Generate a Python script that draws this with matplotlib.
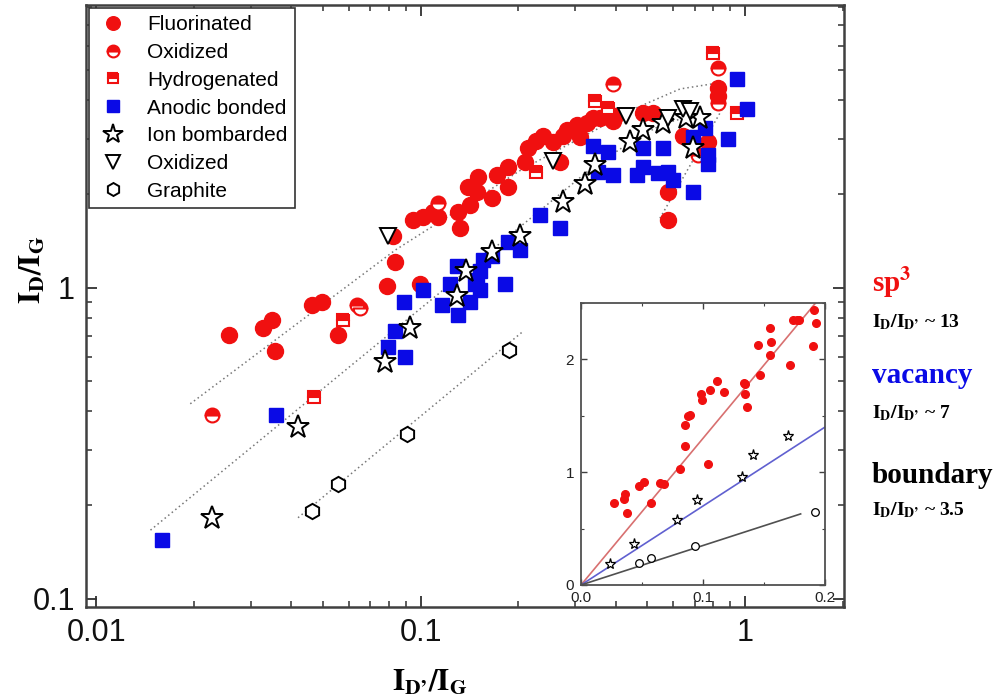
import numpy as np
import matplotlib.pyplot as plt
from matplotlib.ticker import MultipleLocator, NullFormatter

plt.rcParams['font.family'] = ['Liberation Sans', 'DejaVu Sans']
plt.rcParams['mathtext.fontset'] = 'stix'

# ---- main plot data (I_D'/I_G, I_D/I_G) ----
fluor_x = [0.0257, 0.0327, 0.0349, 0.0356, 0.0463, 0.0497, 0.0557, 0.0789, 0.0834, 0.0996,
           0.0823, 0.0948, 0.1018, 0.1093, 0.1132, 0.1306, 0.1324, 0.1422, 0.140, 0.1503,
           0.1493, 0.166, 0.172, 0.186, 0.186, 0.210, 0.214, 0.227, 0.239, 0.256,
           0.275, 0.269, 0.283, 0.303, 0.310, 0.326, 0.340, 0.357, 0.378, 0.392,
           0.397, 0.485, 0.520, 0.644, 0.769, 0.579, 0.579, 0.826, 0.826]
fluor_y = [0.705, 0.740, 0.787, 0.625, 0.876, 0.899, 0.705, 1.01, 1.21, 1.03,
           1.47, 1.65, 1.68, 1.75, 1.68, 1.75, 1.55, 1.84, 2.10, 2.26,
           2.03, 1.94, 2.30, 2.44, 2.10, 2.53, 2.82, 2.97, 3.08, 2.93,
           3.08, 2.53, 3.20, 3.32, 3.04, 3.39, 3.52, 3.52, 3.65, 3.44,
           3.57, 3.65, 3.65, 3.08, 2.93, 2.03, 1.65, 4.39, 4.14]

oxid_x = [0.0228, 0.0637, 0.0651, 0.1132, 0.392, 0.826, 0.826, 0.716]
oxid_y = [0.390, 0.876, 0.860, 1.87, 4.52, 5.08, 3.93, 2.66]

hydro_x = [0.0470, 0.0577, 0.227, 0.345, 0.378, 0.797, 0.945]
hydro_y = [0.444, 0.787, 2.35, 3.99, 3.79, 5.68, 3.65]

anodic_x = [0.0160, 0.0359, 0.0834, 0.0794, 0.0896, 0.0889, 0.1018, 0.1164, 0.1306, 0.1233,
            0.1295, 0.1422, 0.1525, 0.1493, 0.156, 0.166, 0.182, 0.203, 0.1525, 0.1472,
            0.186, 0.233, 0.269, 0.340, 0.378, 0.352, 0.392, 0.465, 0.485, 0.485,
            0.559, 0.540, 0.579, 0.600, 0.692, 0.692, 0.753, 0.769, 0.769, 0.887,
            0.945, 1.015]
anodic_y = [0.154, 0.390, 0.723, 0.643, 0.597, 0.899, 0.982, 0.876, 0.814, 1.03,
            1.17, 0.899, 0.982, 1.06, 1.23, 1.26, 1.03, 1.32, 1.13, 1.03,
            1.40, 1.71, 1.55, 2.86, 2.72, 2.35, 2.30, 2.30, 2.44, 2.82,
            2.82, 2.33, 2.35, 2.21, 2.03, 3.04, 3.27, 2.50, 2.66, 3.01,
            4.69, 3.76]

ion_x = [0.0228, 0.0419, 0.0778, 0.0929, 0.1295, 0.138, 0.166, 0.203, 0.275, 0.321,
         0.345, 0.443, 0.485, 0.559, 0.692, 0.727, 0.658]
ion_y = [0.182, 0.355, 0.576, 0.740, 0.936, 1.13, 1.30, 1.47, 1.88, 2.16,
         2.47, 2.93, 3.20, 3.39, 2.80, 3.52, 3.52]

tri_x = [0.0794, 0.256, 0.430, 0.579, 0.644, 0.677]
tri_y = [1.47, 2.56, 3.57, 3.52, 3.76, 3.70]

graph_x = [0.0463, 0.0557, 0.0909, 0.1875]
graph_y = [0.191, 0.233, 0.337, 0.630]

# dotted guide curves
sp3_guide_x = [0.0195, 0.0836, 0.203, 0.465, 0.631, 0.797]
sp3_guide_y = [0.423, 1.32, 2.38, 3.79, 4.35, 4.52]
vac_guide_x = [0.0147, 0.340, 0.452, 0.559, 0.727]
vac_guide_y = [0.166, 2.44, 2.97, 3.36, 3.62]
bound_guide_x = [0.0419, 0.207]
bound_guide_y = [0.182, 0.723]
steep_guide_x = [0.547, 0.87]
steep_guide_y = [1.67, 3.90]

# ---- inset data (linear scale) ----
in_sp3_x = [0.0267, 0.0349, 0.0363, 0.0377, 0.0472, 0.0513, 0.0573, 0.0649, 0.0677, 0.0813,
            0.0854, 0.0854, 0.0881, 0.0895, 0.0982, 0.0990, 0.1059, 0.1045, 0.1113, 0.1168,
            0.1332, 0.1345, 0.1345, 0.1359, 0.1454, 0.1468, 0.155, 0.1555, 0.155, 0.1714,
            0.174, 0.1768, 0.179, 0.191, 0.1926, 0.190]
in_sp3_y = [0.723, 0.759, 0.810, 0.640, 0.878, 0.917, 0.723, 0.908, 0.893, 1.03,
            1.23, 1.42, 1.50, 1.51, 1.69, 1.64, 1.73, 1.07, 1.81, 1.71,
            1.79, 1.78, 1.69, 1.58, 2.13, 1.86, 2.28, 2.15, 2.04, 1.95,
            2.35, 2.35, 2.35, 2.44, 2.32, 2.12]
in_vac_x = [0.024, 0.0437, 0.0791, 0.095, 0.1318, 0.1413, 0.1694]
in_vac_y = [0.185, 0.363, 0.580, 0.756, 0.958, 1.155, 1.324]
in_bnd_x = [0.0477, 0.0573, 0.0936, 0.1918]
in_bnd_y = [0.193, 0.238, 0.342, 0.646]

ratio_labels = ['sp$^\\mathbf{3}$', 'vacancy', 'boundary']
ratio_values = ['13', '7', '3.5']
ratio_nums = [13, 7, 3.5]
fit_end_x = [0.2, 0.2, 0.18]

RED = '#f01010'
BLUE = '#0a0ae6'

fig = plt.figure(figsize=(10.01, 7), dpi=100)
ax = fig.add_axes([0.0859, 0.1329, 0.7572, 0.86])
ax.set_xscale('log')
ax.set_yscale('log')

gkw = dict(ls=(0, (1, 2)), color='#777777', lw=1.1, zorder=1)
ax.plot(sp3_guide_x, sp3_guide_y, **gkw)
ax.plot(vac_guide_x, vac_guide_y, **gkw)
ax.plot(bound_guide_x, bound_guide_y, **gkw)
ax.plot(steep_guide_x, steep_guide_y, **gkw)

ax.plot(fluor_x, fluor_y, 'o', ms=11.5, color=RED, mec=RED, zorder=3, label='Fluorinated')
ax.plot(oxid_x, oxid_y, 'o', ms=10, color=RED, mec=RED, mfc=RED, fillstyle='top',
        markerfacecoloralt='white', mew=1.5, zorder=3, label='Oxidized')
ax.plot(hydro_x, hydro_y, 's', ms=9, color=RED, mec=RED, mfc=RED, fillstyle='top',
        markerfacecoloralt='white', mew=1.5, zorder=3, label='Hydrogenated')
ax.plot(anodic_x, anodic_y, 's', ms=9.5, color=BLUE, mec=BLUE, zorder=4, label='Anodic bonded')
ax.plot(ion_x, ion_y, '*', ms=17, mfc='white', mec='black', mew=1.4, zorder=5,
        label='Ion bombarded')
ax.plot(tri_x, tri_y, 'v', ms=12, mfc='white', mec='black', mew=1.4, zorder=5, label='Oxidized')
ax.plot(graph_x, graph_y, 'h', ms=11, mfc='white', mec='black', mew=1.4, zorder=5,
        label='Graphite')

ax.set_xlim(0.0093, 2.02)
ax.set_ylim(0.094, 8.1)
ax.set_xticks([0.01, 0.1, 1])
ax.set_xticklabels(['0.01', '0.1', '1'])
ax.set_yticks([0.1, 1])
ax.set_yticklabels(['0.1', '1'])
ax.xaxis.set_minor_formatter(NullFormatter())
ax.yaxis.set_minor_formatter(NullFormatter())
ax.tick_params(which='both', direction='in', top=True, right=True, colors='#303030',
               labelcolor='#111111', labelsize=22, pad=8)
ax.tick_params(which='major', length=8, width=1.3)
ax.tick_params(which='minor', length=4.5, width=1.1)
for sp in ax.spines.values():
    sp.set_color('#404040')
    sp.set_linewidth(1.8)

leg = ax.legend(loc='upper left', bbox_to_anchor=(0.004, 0.995), borderaxespad=0,
                fontsize=15, fancybox=False, edgecolor='#333333', framealpha=1,
                markerscale=0.85, handlelength=1.6, handletextpad=0.85,
                labelspacing=0.42, borderpad=0.35)
leg.get_frame().set_linewidth(1.2)

APOS = '\u2019'
fig.text(31 / 1001, 1 - 270 / 700, r'$\mathbf{I_D/I_G}$', rotation=90, fontsize=22,
         ha='center', va='center')
fig.text(430 / 1001, 1 - 689 / 700, r'$\mathbf{I_{D' + APOS + r'}/I_G}$', fontsize=22,
         ha='center', va='baseline')

# ---- inset ----
ins = fig.add_axes([0.5804, 0.1643, 0.2438, 0.4029], zorder=6)
ins.set_facecolor('white')
line_cols = ['#d87070', '#6060d0', '#505050']
for r, xe, c in zip(ratio_nums, fit_end_x, line_cols):
    ins.plot([0, xe], [0, r * xe], color=c, lw=1.2, zorder=1)
ins.plot(in_sp3_x, in_sp3_y, 'o', ms=5.5, color=RED, zorder=3)
ins.plot(in_vac_x, in_vac_y, '*', ms=8, mfc='white', mec='black', mew=0.9, zorder=3)
ins.plot(in_bnd_x, in_bnd_y, 'o', ms=5.5, mfc='white', mec='black', mew=0.9, zorder=3)
ins.set_xlim(0, 0.2)
ins.set_ylim(0, 2.5)
ins.set_xticks([0, 0.1, 0.2])
ins.set_xticklabels(['0.0', '0.1', '0.2'])
ins.set_yticks([0, 1, 2])
ins.set_yticklabels(['0', '1', '2'])
ins.xaxis.set_minor_locator(MultipleLocator(0.05))
ins.yaxis.set_minor_locator(MultipleLocator(0.5))
ins.tick_params(which='both', direction='in', top=True, right=True, colors='#404040',
                labelcolor='#222222', labelsize=11)
ins.tick_params(axis='x', pad=4)
ins.tick_params(axis='y', pad=5)
ins.tick_params(which='major', length=4, width=1)
ins.tick_params(which='minor', length=2.5, width=0.8)
for sp in ins.spines.values():
    sp.set_color('#505050')
    sp.set_linewidth(1.3)

# ---- right-hand annotations ----
lab_cols = [RED, BLUE, 'black']
lab_base = [292, 383, 483]
val_base = [327, 418, 515]
for lab, val, c, yb, yv in zip(ratio_labels, ratio_values, lab_cols, lab_base, val_base):
    fig.text(872 / 1001, 1 - yb / 700, lab, color=c, fontsize=21, fontweight='bold',
             family='Liberation Serif', va='baseline')
    fig.text(872 / 1001, 1 - yv / 700, r'$\mathbf{I_D/I_{D' + APOS + r'}}$ ~ ' + val,
             color='black', fontsize=14, fontweight='bold', family='Liberation Serif',
             va='baseline')

fig.savefig('out.png', dpi=100)
